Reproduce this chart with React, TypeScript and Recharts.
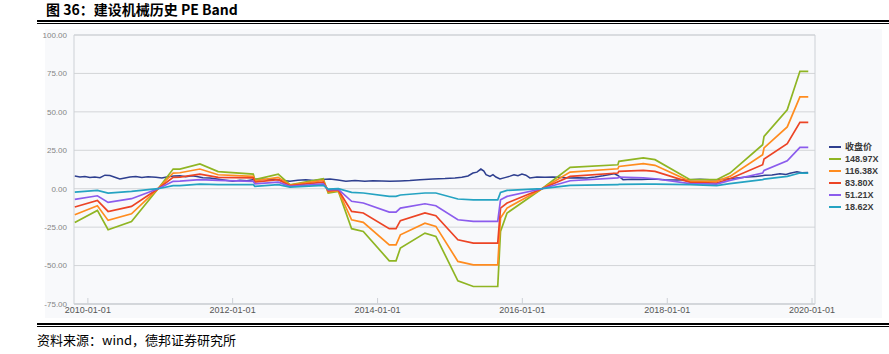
import React from "react";
import { LineChart, Line, XAxis, YAxis, CartesianGrid, ReferenceArea } from "recharts";

// PE band vertices (dates where the bands change slope)
const bandDates = [
  "2009-10-27", "2010-02-18", "2010-04-13", "2010-08-09", "2010-12-21", "2011-03-07",
  "2011-04-10", "2011-07-20", "2011-10-20", "2012-04-14", "2012-04-22", "2012-08-18",
  "2012-10-16", "2013-04-02", "2013-04-27", "2013-06-17", "2013-08-23", "2013-10-21",
  "2014-03-01", "2014-04-04", "2014-04-26", "2014-08-28", "2014-10-22", "2015-02-10",
  "2015-04-29", "2015-08-30", "2015-09-13", "2015-10-16", "2016-04-09", "2016-08-29",
  "2017-04-27", "2017-05-02", "2017-09-02", "2017-10-31", "2018-04-26", "2018-09-07",
  "2018-11-13", "2019-04-27", "2019-05-04", "2019-08-29", "2019-11-01", "2019-12-13",
];

const band148 = [
  -21.9, -14.1, -26.7, -21.3, 0, 12.8, 12.8, 16.1, 11.1, 9.5, 5.9, 9.5, 2.6, 6.5, -2.8, -1.7,
  -26, -27.8, -46.9, -46.9, -38.6, -28.9, -31, -59.9, -63.6, -63.6, -27.8, -15.8, 0, 13.9,
  15.6, 17.8, 20.0, 18.9, 5.9, 5.9, 10.2, 28.6, 34.0, 51.4, 76.4, 76.4,
];
const band116 = [
  -16.9, -11.1, -20.6, -16.3, 0, 10.2, 10.4, 12.8, 9.1, 8.0, 5.2, 7.4, 2.3, 5.4, -2.0, -1.2,
  -20.2, -21.9, -36.5, -36.5, -30, -22.4, -24.5, -47.3, -49.5, -49.5, -19.1, -12.6, 0, 10.8,
  13.0, 14.5, 16.3, 15.2, 4.8, 4.8, 8.0, 22.1, 26.5, 40.2, 59.7, 59.7,
];
const band83 = [
  -11.9, -7.6, -14.8, -11.5, 0, 7.4, 7.6, 9.5, 7.4, 7.0, 4.3, 5.9, 2.0, 4.3, -1.4, -0.8,
  -14.8, -15.8, -26, -26, -20.8, -15.8, -17.6, -33.2, -35.4, -35.4, -12.6, -9.3, 0, 8.0,
  10.2, 11.3, 11.9, 11.3, 4.1, 3.7, 6.5, 15.6, 19.3, 29.3, 43.2, 43.2,
];
const band51 = [
  -6.9, -4.6, -8.9, -6.5, 0, 4.8, 4.9, 5.9, 5.4, 4.8, 3.2, 4.3, 1.5, 3.2, -0.8, -0.5,
  -8.2, -9.3, -15.2, -15.2, -12.6, -9.8, -11.1, -20.2, -21.3, -21.3, -7.2, -5, 0, 5.2,
  7.0, 7.6, 7.0, 6.5, 3.3, 3.0, 5.4, 10.2, 11.9, 18.2, 26.9, 26.9,
];
const band18 = [
  -2.2, -1.1, -2.8, -1.7, 0, 2.0, 2.0, 3.0, 2.6, 2.6, 1.6, 2.6, 1.1, 2.2, -0.3, 0,
  -2.4, -2.8, -5, -5, -4.1, -2.8, -2.8, -6.7, -7.2, -7.2, -2.4, -1.1, 0, 2.2,
  2.6, 2.8, 3.0, 3.0, 2.6, 2.0, 3.3, 5.9, 6.2, 8.0, 10.2, 10.2,
];

// close price
const closeDates = [
  "2009-10-27", "2009-11-22", "2009-12-17", "2010-01-11", "2010-02-05", "2010-03-03",
  "2010-03-28", "2010-04-22", "2010-05-17", "2010-06-11", "2010-07-07", "2010-08-01",
  "2010-08-31", "2010-09-30", "2010-10-31", "2010-12-10", "2011-01-09", "2011-02-09",
  "2011-03-11", "2011-04-10", "2011-05-10", "2011-06-10", "2011-07-05", "2011-08-04",
  "2011-09-08", "2011-10-14", "2011-11-18", "2012-01-02", "2012-02-07", "2012-03-13",
  "2012-04-12", "2012-05-18", "2012-06-17", "2012-07-22", "2012-08-26", "2012-10-16",
  "2012-11-25", "2013-01-04", "2013-02-14", "2013-03-26", "2013-05-06", "2013-06-15",
  "2013-07-25", "2013-09-09", "2013-10-29", "2013-12-08", "2014-01-23", "2014-03-04",
  "2014-04-24", "2014-06-13", "2014-08-03", "2014-10-07", "2014-12-07", "2015-01-26",
  "2015-03-02", "2015-04-02", "2015-04-27", "2015-05-17", "2015-06-06", "2015-06-21",
  "2015-07-02", "2015-07-22", "2015-08-06", "2015-08-21", "2015-09-10", "2015-10-05",
  "2015-10-31", "2015-11-20", "2015-12-10", "2015-12-30", "2016-01-19", "2016-02-08",
  "2016-03-15", "2016-04-24", "2016-06-03", "2016-07-19", "2016-08-28", "2016-10-08",
  "2016-11-22", "2017-01-01", "2017-02-11", "2017-03-18", "2017-04-07", "2017-04-27",
  "2017-05-23", "2017-07-07", "2017-08-26", "2017-10-21", "2017-12-20", "2018-02-19",
  "2018-04-25", "2018-06-15", "2018-08-04", "2018-09-09", "2018-10-29", "2018-12-19",
  "2019-02-07", "2019-03-24", "2019-05-09", "2019-06-13", "2019-07-23", "2019-08-23",
  "2019-09-12", "2019-10-17", "2019-11-11", "2019-12-12",
];
const closeValues = [
  8.2, 7.6, 8.0, 7.3, 7.6, 7.2, 8.8, 8.6, 7.5, 6.3, 7.0, 7.6,
  8.0, 7.3, 7.8, 7.4, 7.0, 7.8, 8.3, 8.5, 7.8, 8.4, 8.0, 7.2,
  7.0, 6.3, 5.6, 4.8, 5.5, 5.2, 5.9, 6.4, 6.0, 6.3, 5.6, 4.8,
  5.5, 5.9, 5.4, 6.0, 6.3, 5.6, 4.8, 5.3, 4.9, 5.2, 5.0, 4.8,
  5.0, 5.3, 5.8, 6.3, 6.6, 7.0, 7.4, 8.3, 10.2, 10.8, 12.8, 11.5,
  9.1, 8.0, 9.2, 7.6, 6.3, 7.2, 8.2, 9.1, 8.4, 9.5, 8.8, 7.0,
  7.6, 7.4, 7.6, 7.3, 7.0, 7.2, 7.0, 7.6, 8.4, 9.2, 9.8, 8.6,
  5.9, 6.2, 6.0, 6.3, 5.8, 5.6, 5.9, 6.1, 5.8, 5.9, 6.4, 7.0,
  7.6, 7.9, 8.7, 9.0, 9.8, 9.3, 10.0, 11.0, 10.4, 10.6,
];

const seriesNames = ["收盘价", "148.97X", "116.38X", "83.80X", "51.21X", "18.62X"];
const seriesColors = ["#2e3f8f", "#8fb523", "#ff8c1f", "#ec4425", "#8b5ced", "#25a3c2"];
const yTicks = [-75, -50, -25, 0, 25, 50, 75, 100];
const xTickLabels = ["2010-01-01", "2012-01-01", "2014-01-01", "2016-01-01", "2018-01-01", "2020-01-01"];
const xDomainLabels = ["2009-10-23", "2020-01-16"];

const toRows = (dates: string[], values: number[]) =>
  dates.map((d, i) => ({ t: Date.parse(d), v: values[i] }));

const closeRows = toRows(closeDates, closeValues);
const bandRows = [band148, band116, band83, band51, band18].map((b) => toRows(bandDates, b));
const xDomain = xDomainLabels.map((d) => Date.parse(d));
const xTicks = xTickLabels.map((d) => Date.parse(d));

const fmtDate = (t: number) => new Date(t).toISOString().slice(0, 10);

export default function App() {
  return (
    <div style={{ position: "absolute", left: 0, top: 0, width: 889, height: 354, background: "#fff", fontFamily: "'Noto Sans CJK SC', sans-serif" }}>
      <div style={{ position: "absolute", left: 46, top: 0, fontSize: 14, fontWeight: 700, color: "#000", lineHeight: "19px" }}>
        图 36：建设机械历史 PE Band
      </div>
      <div style={{ position: "absolute", left: 37, right: 0, top: 20, borderTop: "2px solid #000" }} />
      <div style={{ position: "absolute", left: 37, right: 0, top: 23, borderTop: "1px solid #000" }} />
      <div style={{ position: "absolute", left: 45, top: 29, width: 837, height: 289, background: "#f8f9fb" }} />
      <div style={{ position: "absolute", left: 0, top: 0 }}>
        <LineChart width={889} height={354} margin={{ top: 35, right: 74, bottom: 30, left: 0 }}>
          <ReferenceArea x1={xDomain[0]} x2={xDomain[1]} y1={-75} y2={100} fill="none" stroke="#cdd1d6" strokeWidth={1} />
          <CartesianGrid vertical={false} stroke="#d3d5d8" />
          <XAxis
            dataKey="t"
            type="number"
            domain={xDomain}
            ticks={xTicks}
            tickFormatter={fmtDate}
            allowDataOverflow
            height={20}
            axisLine={{ stroke: "#cdd1d6" }}
            tickLine={{ stroke: "#cdd1d6" }}
            tickSize={-6}
            tickMargin={9}
            tick={{ fontSize: 9, fill: "#555", fontFamily: "'Liberation Sans', Arial, sans-serif" }}
          />
          <YAxis
            type="number"
            domain={[-75, 100]}
            ticks={yTicks}
            tickFormatter={(v: number) => v.toFixed(2)}
            width={74}
            axisLine={false}
            tickLine={false}
            tickSize={4}
            tickMargin={3}
            tick={{ fontSize: 8, fill: "#858585", fontFamily: "'Liberation Sans', Arial, sans-serif" }}
          />
          <Line data={closeRows} dataKey="v" name={seriesNames[0]} stroke={seriesColors[0]} strokeWidth={1.5} dot={false} isAnimationActive={false} type="linear" />
          {bandRows.map((rows, i) => (
            <Line
              key={seriesNames[i + 1]}
              data={rows}
              dataKey="v"
              name={seriesNames[i + 1]}
              stroke={seriesColors[i + 1]}
              strokeWidth={1.7}
              dot={false}
              isAnimationActive={false}
              type="linear"
            />
          ))}
        </LineChart>
      </div>
      <div style={{ position: "absolute", left: 829, top: 141 }}>
        {seriesNames.map((n, i) => (
          <div key={n} style={{ display: "flex", alignItems: "center", height: 12 }}>
            <span style={{ display: "inline-block", width: 12, height: 2, background: seriesColors[i], marginRight: 4 }} />
            <span style={{ fontSize: 9, fontWeight: 700, color: "#3a3a3a", fontFamily: "'Liberation Sans', 'Noto Sans CJK SC', sans-serif", lineHeight: "12px" }}>{n}</span>
          </div>
        ))}
      </div>
      <div style={{ position: "absolute", left: 37, right: 0, top: 323, borderTop: "2px solid #000" }} />
      <div style={{ position: "absolute", left: 37, right: 0, top: 326, borderTop: "1px solid #000" }} />
      <div style={{ position: "absolute", left: 37, top: 331, fontSize: 13, color: "#000", lineHeight: "18px" }}>
        资料来源：wind，德邦证券研究所
      </div>
    </div>
  );
}
